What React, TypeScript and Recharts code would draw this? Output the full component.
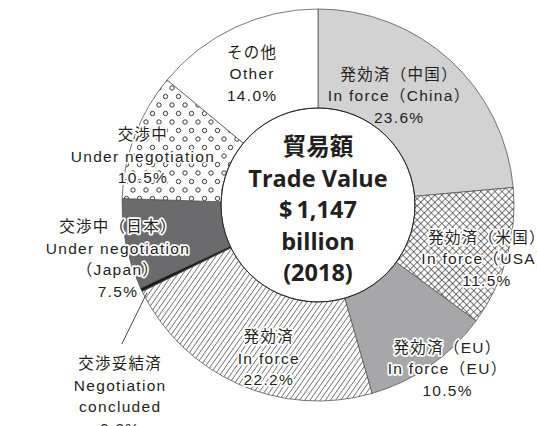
import { PieChart, Pie, Cell } from 'recharts';

// Trade value breakdown of FTA/EPA partners (2018), % of total
const labelsJa = ['発効済（中国）', '発効済（米国）', '発効済（EU）', '発効済', '交渉妥結済', '交渉中（日本）', '交渉中', 'その他'];
const labelsEn = [
  ['In force（China）'],
  ['In force（USA）'],
  ['In force（EU）'],
  ['In force'],
  ['Negotiation', 'concluded'],
  ['Under negotiation', '（Japan）'],
  ['Under negotiation'],
  ['Other'],
];
const shares = [23.6, 11.5, 10.5, 22.2, 0.3, 7.5, 10.5, 14.0];

const centerLines = ['貿易額', 'Trade Value', '$\u20091,147', 'billion', '(2018)'];

const data = shares.map((v, i) => ({ name: labelsJa[i], en: labelsEn[i], value: v }));

// styling
const fills = ['#d2d2d2', 'url(#cross)', '#a7a7a9', 'url(#hatch)', '#1a1a1a', '#6b6b6e', 'url(#dots)', '#ffffff'];

// label placement: radius as fraction of outer radius, angle shift (deg, clockwise) from slice middle
const labelLayout = [
  { r: 0.694, shift: -5.8, halo: false },
  { r: 0.905, shift: 2.1, halo: true },
  { r: 1.065, shift: -3.5, halo: true },
  { r: 0.82, shift: -6.1, halo: true },
  { r: 1.4036, shift: -18.4, halo: false },
  { r: 1.057, shift: -3.5, halo: true },
  { r: 0.927, shift: -5.2, halo: true },
  { r: 0.748, shift: -1.5, halo: false },
];

const W = 537;
const H = 426;
const CX = 318;
const CY = 205;
const INNER = 97;
const OUTER = 196;
const RAD = Math.PI / 180;
const LINE_H = 21.5;
const FONT = "'Liberation Sans', 'Noto Sans CJK JP', sans-serif";

const polar = (cx: number, cy: number, r: number, angle: number) => ({
  x: cx + r * Math.cos(-angle * RAD),
  y: cy + r * Math.sin(-angle * RAD),
});

const renderLabel = (props: any) => {
  const { cx, cy, midAngle, outerRadius, index, value, payload } = props;
  const lay = labelLayout[index];
  const p = polar(cx, cy, outerRadius * lay.r, midAngle - lay.shift);
  const lines: string[] = [payload.name, ...payload.en, `${value.toFixed(1)}%`];
  const y0 = p.y - ((lines.length - 1) * LINE_H) / 2 + 5.5;
  const halo = lay.halo
    ? { stroke: '#fff', strokeWidth: 3.5, strokeLinejoin: 'round' as const, paintOrder: 'stroke' as const }
    : {};
  let leader = null;
  if (index === 4) {
    const a = polar(cx, cy, outerRadius * 0.98, midAngle + 1.5);
    const b = polar(cx, cy, outerRadius * 1.227, midAngle + 9.7);
    leader = <line x1={a.x} y1={a.y} x2={b.x} y2={b.y} stroke="#333" strokeWidth={0.9} />;
  }
  return (
    <g key={`lbl-${index}`}>
      {leader}
      <text
        x={p.x}
        y={y0}
        textAnchor="middle"
        fontFamily={FONT}
        fontSize={15.5}
        letterSpacing={1.3}
        fill="#231f20"
        {...halo}
      >
        {lines.map((t, i) => (
          <tspan key={i} x={p.x} y={y0 + i * LINE_H}>
            {t}
          </tspan>
        ))}
      </text>
    </g>
  );
};

export default function App() {
  return (
    <div style={{ position: 'absolute', left: 0, top: 0, width: W, height: H, overflow: 'hidden', background: '#fff' }}>
      <svg width={0} height={0} style={{ position: 'absolute' }}>
        <defs>
          <pattern id="cross" width={5} height={5} patternUnits="userSpaceOnUse" patternTransform="rotate(45)">
            <rect width={5} height={5} fill="#fff" />
            <line x1={0} y1={0} x2={0} y2={5} stroke="#111" strokeWidth={1.1} />
            <line x1={0} y1={0} x2={5} y2={0} stroke="#111" strokeWidth={1.1} />
          </pattern>
          <pattern id="hatch" width={4.2} height={4.2} patternUnits="userSpaceOnUse" patternTransform="rotate(35)">
            <rect width={4.2} height={4.2} fill="#fff" />
            <line x1={0} y1={0} x2={0} y2={4.2} stroke="#111" strokeWidth={1} />
          </pattern>
          <pattern id="dots" width={13} height={17} patternUnits="userSpaceOnUse">
            <rect width={13} height={17} fill="#fff" />
            <circle cx={3} cy={3} r={2.2} fill="#fff" stroke="#222" strokeWidth={0.9} />
            <circle cx={9.5} cy={11.5} r={2.2} fill="#fff" stroke="#222" strokeWidth={0.9} />
          </pattern>
        </defs>
      </svg>
      <PieChart width={W} height={H} margin={{ top: 0, right: 0, bottom: 0, left: 0 }}>
        <Pie
          data={data}
          dataKey="value"
          nameKey="name"
          cx={CX}
          cy={CY}
          innerRadius={INNER}
          outerRadius={OUTER}
          startAngle={90}
          endAngle={-270}
          stroke="#555"
          strokeWidth={0.8}
          label={renderLabel}
          labelLine={false}
          isAnimationActive={false}
        >
          {data.map((d, i) => (
            <Cell key={d.name + i} fill={fills[i]} />
          ))}
        </Pie>
      </PieChart>
      <svg width={W} height={H} style={{ position: 'absolute', left: 0, top: 0, pointerEvents: 'none' }}>
        <circle cx={CX} cy={CY} r={INNER} fill="none" stroke="#222" strokeWidth={1} />
        <text
          x={CX}
          textAnchor="middle"
          fontFamily="'Open Sans', 'Noto Sans CJK JP', sans-serif"
          fontWeight={700}
          fontSize={23.5}
          fill="#231f20"
        >
          {centerLines.map((t, i) => (
            <tspan key={t} x={CX} y={CY - 50 + i * 31.5}>
              {t}
            </tspan>
          ))}
        </text>
      </svg>
    </div>
  );
}
